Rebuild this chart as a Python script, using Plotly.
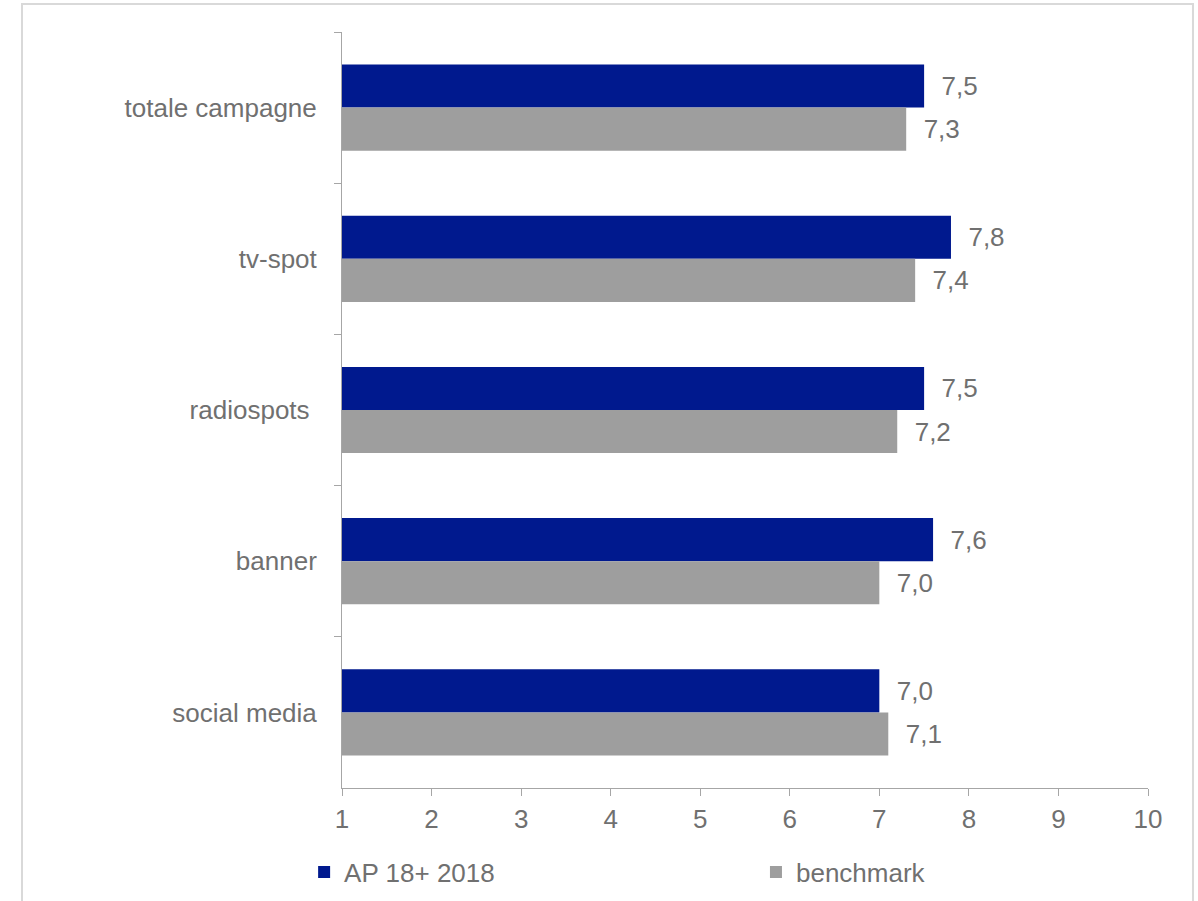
import plotly.graph_objects as go

categories = ["totale campagne", "tv-spot", "radiospots ", "banner", "social media"]
ap_2018 = [7.5, 7.8, 7.5, 7.6, 7.0]
benchmark = [7.3, 7.4, 7.2, 7.0, 7.1]
x_ticks = [1, 2, 3, 4, 5, 6, 7, 8, 9, 10]

BLUE = "#00198E"
GRAY = "#9E9E9E"
TXT = "#707070"
AXIS = "#A6A6A6"
FONT = "Liberation Sans, Arial, sans-serif"
FS = 26

NB = "\u00a0"

fig = go.Figure()
fig.add_trace(go.Bar(
    y=categories, x=ap_2018, orientation="h", name="AP 18+ 2018",
    marker=dict(color=BLUE, line=dict(width=0)),
    texttemplate=NB * 2 + "%{x:.1f}", textposition="outside", cliponaxis=False,
    textfont=dict(family=FONT, size=FS, color=TXT),
    legend="legend",
))
fig.add_trace(go.Bar(
    y=categories, x=benchmark, orientation="h", name="benchmark",
    marker=dict(color=GRAY, line=dict(width=0)),
    texttemplate=NB * 2 + "%{x:.1f}", textposition="outside", cliponaxis=False,
    textfont=dict(family=FONT, size=FS, color=TXT),
    legend="legend2",
))

leg_common = dict(orientation="h", xanchor="left", yref="container", y=0.0322,
                  yanchor="middle", font=dict(family=FONT, size=FS, color=TXT),
                  itemwidth=30, bgcolor="rgba(0,0,0,0)")

fig.update_layout(
    width=1198, height=901,
    margin=dict(l=342, r=50, t=32, b=113),
    paper_bgcolor="white", plot_bgcolor="white",
    separators=",.",
    barmode="group", bargap=0.43, bargroupgap=0,
    font=dict(family=FONT, size=FS, color=TXT),
    showlegend=True,
    legend=dict(x=-0.047, **leg_common),
    legend2=dict(x=0.5136, **leg_common),
    xaxis=dict(range=[1, 10], tickvals=x_ticks, showgrid=False, zeroline=False,
               showline=True, linecolor=AXIS, linewidth=1, automargin=False,
               ticks="outside", ticklen=7, tickcolor=AXIS, ticklabelstandoff=1,
               tickfont=dict(family=FONT, size=FS, color=TXT)),
    yaxis=dict(autorange="reversed", showgrid=False, zeroline=False,
               showline=True, linecolor=AXIS, linewidth=1, automargin=False,
               ticks="outside", ticklen=7, tickcolor=AXIS, tickson="boundaries",
               ticklabelstandoff=19,
               tickfont=dict(family=FONT, size=FS, color=TXT)),
    shapes=[dict(type="rect", xref="paper", yref="paper",
                 x0=-0.397, x1=1.0558, y0=-0.16, y1=1.037,
                 line=dict(color="#D9D9D9", width=2), fillcolor="rgba(0,0,0,0)",
                 layer="below")],
)

fig.write_html("out.html")
